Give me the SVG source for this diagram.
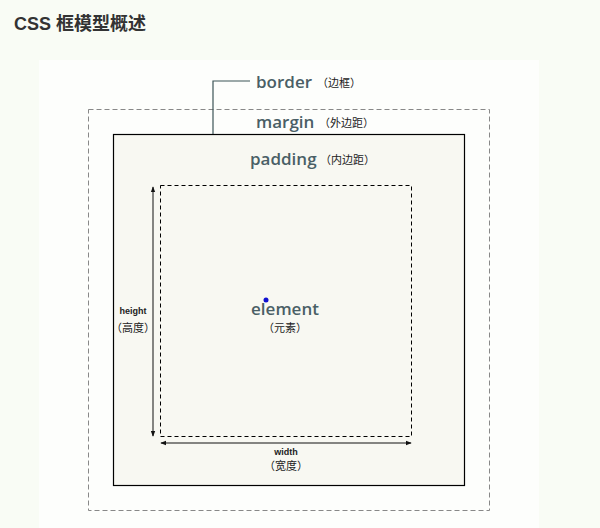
<svg xmlns="http://www.w3.org/2000/svg" width="600" height="528" viewBox="0 0 600 528">
<defs>
<marker id="ah" viewBox="0 0 8 8" refX="7" refY="4" markerWidth="6" markerHeight="6" orient="auto-start-reverse" markerUnits="userSpaceOnUse">
<path d="M0,1 L8,4 L0,7 Z" fill="#111"/>
</marker>
</defs>
<style>
.lbl{font-family:"Open Sans","Noto Sans",sans-serif;font-weight:600;fill:#4a5f66;font-size:17px}
.cn{font-family:"Noto Sans CJK SC",sans-serif;fill:#222;font-size:11px}
.sm{font-family:"Liberation Sans",sans-serif;font-weight:bold;fill:#222;font-size:9px}
</style>
<rect width="600" height="528" fill="#f9fcf5"/>
<text x="14" y="30" font-family="'Liberation Sans','Noto Sans CJK SC',sans-serif" font-weight="bold" font-size="18" fill="#333">CSS 框模型概述</text>
<rect x="39" y="60" width="500" height="468" fill="#fdfefc"/>
<g id="margin">
<rect x="88.5" y="109.5" width="401" height="401" fill="none" stroke="#888" stroke-width="1" stroke-dasharray="5,3"/>
<text class="lbl" x="256" y="128">margin</text>
<text class="cn" x="319" y="127">（外边距）</text>
</g>
<g id="border">
<rect x="113.5" y="134.5" width="351" height="351" fill="#f8f8f2" stroke="#000" stroke-width="1.2"/>
<text class="lbl" x="256" y="88">border</text>
<text class="cn" x="317" y="87">（边框）</text>
</g>
<g id="padding">
<text class="lbl" x="250" y="165">padding</text>
<text class="cn" x="320" y="164">（内边距）</text>
</g>
<g id="element">
<rect x="160.5" y="185.5" width="251" height="251" fill="none" stroke="#000" stroke-width="1" stroke-dasharray="4,3"/>
<circle cx="266" cy="300" r="2.5" fill="#1010d0"/>
<text class="lbl" x="285" y="315" text-anchor="middle">element</text>
<text class="cn" x="285" y="332" text-anchor="middle">（元素）</text>
</g>
<g id="height">
<text class="sm" x="133" y="314" text-anchor="middle">height</text>
<text class="cn" x="133" y="332" text-anchor="middle">（高度）</text>
</g>
<g id="width">
<text class="sm" x="286" y="455" text-anchor="middle">width</text>
<text class="cn" x="286" y="470" text-anchor="middle">（宽度）</text>
</g>
<g id="connectors">
<polyline points="213,134 213,81 250,81" fill="none" stroke="#3d5457" stroke-width="1.2"/>
<line x1="153" y1="187" x2="153" y2="436" stroke="#111" stroke-width="1" marker-start="url(#ah)" marker-end="url(#ah)"/>
<line x1="161" y1="443" x2="411" y2="443" stroke="#111" stroke-width="1" marker-start="url(#ah)" marker-end="url(#ah)"/>
</g>
</svg>
